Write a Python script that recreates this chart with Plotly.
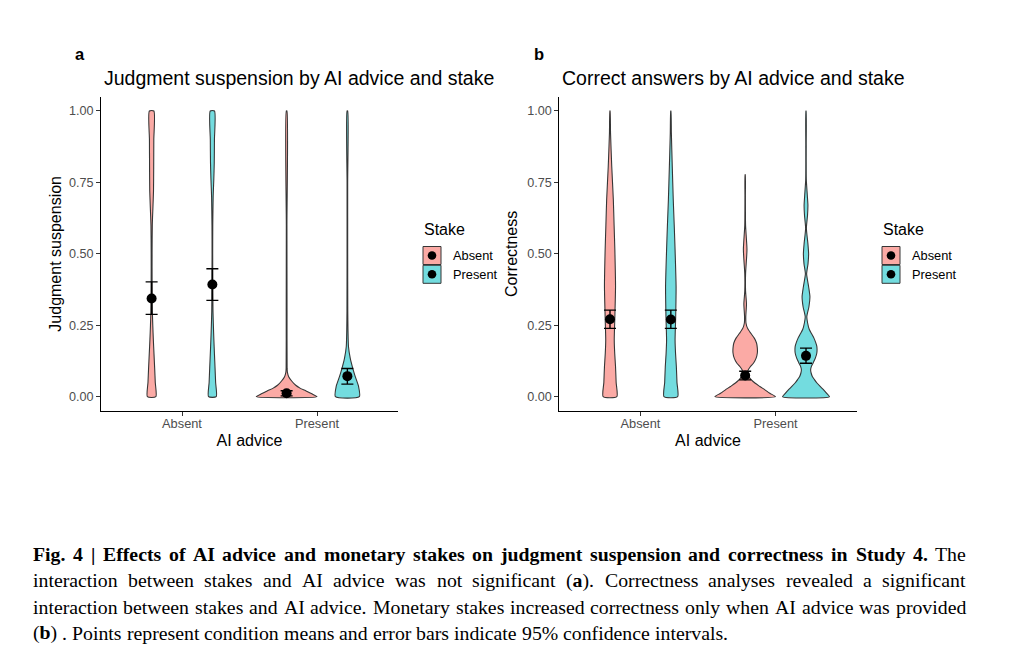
import plotly.graph_objects as go

# page body has an 8px margin, so the figure is laid out in reference pixels minus 8
OFF = 8
W, H = 1004, 654

# ---- data ----
advice = ["Absent", "Present"]          # x categories (AI advice)
stakes = ["Absent", "Present"]          # fill groups (Stake)

# condition means and 95% CI, order: (AI absent, stake absent), (AI absent, stake present),
# (AI present, stake absent), (AI present, stake present)
susp_mean = [0.344, 0.393, 0.012, 0.072]
susp_lo = [0.288, 0.337, 0.003, 0.044]
susp_hi = [0.402, 0.448, 0.021, 0.099]

corr_mean = [0.271, 0.270, 0.074, 0.143]
corr_lo = [0.239, 0.239, 0.059, 0.117]
corr_hi = [0.303, 0.303, 0.089, 0.170]

# violin profiles: y levels and relative density (1 = widest violin)
susp_aa_y = [0, .05, .10, .15, .20, .25, .30, .40, .50, .60, .66, .72, .80, .90, 1.0]
susp_aa_d = [.14, .12, .10, .078, .056, .038, .024, .015, .015, .022, .042, .062, .068, .072, .074]
susp_ap_y = [0, .05, .10, .15, .20, .25, .30, .40, .50, .60, .70, .76, .82, .90, 1.0]
susp_ap_d = [.127, .107, .088, .068, .049, .033, .020, .013, .010, .013, .026, .047, .062, .068, .07]
susp_pa_y = [0, .01, .02, .03, .04, .055, .07, .085, .10, .30, .60, 1.0]
susp_pa_d = [1.0, .83, .64, .44, .30, .166, .068, .026, .016, .013, .010, .010]
susp_pp_y = [0, .036, .071, .10, .135, .176, .235, .30, .50, .75, 1.0]
susp_pp_d = [.394, .368, .257, .176, .094, .036, .020, .013, .010, .010, .010]

corr_aa_y = [0, .05, .105, .15, .198, .28, .385, .513, .60, .689, .805, .922, 1.0]
corr_aa_d = [.225, .202, .182, .156, .140, .160, .182, .160, .135, .110, .058, .018, .003]
corr_ap_y = [0, .05, .105, .15, .198, .28, .385, .513, .60, .689, .805, .922, 1.0]
corr_ap_d = [.225, .202, .182, .156, .140, .160, .173, .140, .112, .080, .048, .018, .003]
corr_pa_y = [0, .012, .024, .036, .048, .065, .08, .092, .105, .118, .135, .153, .17, .188,
             .205, .222, .24, .258, .28, .325, .37, .43, .515, .60, .70, .777]
corr_pa_d = [1.0, .81, .65, .48, .32, .152, .092, .092, .168, .277, .36, .40, .40, .373,
             .30, .185, .076, .026, .020, .043, .013, .013, .059, .013, .007, .003]
corr_pp_y = [0, .012, .024, .036, .048, .06, .071, .083, .094, .106, .118, .135, .153, .176,
             .19, .205, .22, .235, .258, .28, .315, .35, .385, .43, .465, .50, .535, .59,
             .635, .67, .705, .76, .88, 1.0]
corr_pp_d = [.772, .68, .58, .465, .36, .277, .208, .168, .152, .178, .234, .307, .356, .356,
             .317, .261, .185, .109, .053, .026, .096, .129, .086, .020, .066, .086, .063, .013,
             .050, .063, .043, .010, .007, .003]

y_ticks = [0, 0.25, 0.5, 0.75, 1.0]
y_ticktext = ["0.00", "0.25", "0.50", "0.75", "1.00"]

caption = [
    "<b>Fig. 4 | Effects of AI advice and monetary stakes on judgment suspension and "
    "correctness in Study 4.</b> The",
    "interaction between stakes and AI advice was not significant (<b>a</b>). Correctness "
    "analyses revealed a significant",
    "interaction between stakes and AI advice. Monetary stakes increased correctness only "
    "when AI advice was provided",
    "(<b>b</b>) . Points represent condition means and error bars indicate 95% confidence "
    "intervals.",
]

# ---- styling ----
FILL = ["rgba(248,118,109,0.62)", "rgba(0,191,196,0.55)"]
OUTLINE = "#363636"
SANS = "Liberation Sans, Arial, sans-serif"
SERIF = "Liberation Serif, Times New Roman, serif"
DODGE = 0.225
HALF = 0.225
CAP_SIZE = 19.8


def px(x):
    return (x - OFF) / W


def py(y):
    return 1 - (y - OFF) / H


fig = go.Figure()


def add_violin(y, d, center, color, xa, ya):
    hw = [v * HALF for v in d]
    xs = [center - w for w in hw] + [center + w for w in reversed(hw)] + [center - hw[0]]
    ys = list(y) + list(reversed(y)) + [y[0]]
    fig.add_trace(go.Scatter(
        x=xs, y=ys, mode="lines", fill="toself", fillcolor=color,
        line=dict(color=OUTLINE, width=1.1, shape="spline", smoothing=0.6),
        hoverinfo="skip", showlegend=False, xaxis=xa, yaxis=ya))


def add_panel(profiles, mean, lo, hi, xa, ya):
    centers = []
    for i, adv in enumerate(advice):
        for j, st in enumerate(stakes):
            centers.append(i + 1 + (DODGE if j else -DODGE))
    for k, (yy, dd) in enumerate(profiles):
        add_violin(yy, dd, centers[k], FILL[k % 2], xa, ya)
    fig.add_trace(go.Scatter(
        x=centers, y=mean, mode="markers",
        marker=dict(color="black", size=10),
        error_y=dict(type="data", symmetric=False,
                     array=[h - m for h, m in zip(hi, mean)],
                     arrayminus=[m - l for m, l in zip(mean, lo)],
                     color="black", thickness=1.4, width=6),
        hoverinfo="skip", showlegend=False, xaxis=xa, yaxis=ya))


add_panel([(susp_aa_y, susp_aa_d), (susp_ap_y, susp_ap_d),
           (susp_pa_y, susp_pa_d), (susp_pp_y, susp_pp_d)],
          susp_mean, susp_lo, susp_hi, "x", "y")
add_panel([(corr_aa_y, corr_aa_d), (corr_ap_y, corr_ap_d),
           (corr_pa_y, corr_pa_d), (corr_pp_y, corr_pp_d)],
          corr_mean, corr_lo, corr_hi, "x2", "y2")

xaxis_style = dict(range=[0.4, 2.6], tickvals=[1, 2], ticktext=advice,
                   showline=True, linecolor="black", linewidth=1.1, mirror=False,
                   ticks="outside", ticklen=4, tickcolor="#333333", tickwidth=1.1,
                   ticklabelstandoff=-3,
                   showgrid=False, zeroline=False,
                   tickfont=dict(family=SANS, size=12.8, color="#4d4d4d"),
                   title=dict(text="AI advice", standoff=4,
                              font=dict(family=SANS, size=16, color="black")))
yaxis_style = dict(range=[-0.05, 1.05], tickvals=y_ticks, ticktext=y_ticktext,
                   showline=True, linecolor="black", linewidth=1.1,
                   ticks="outside", ticklen=4, tickcolor="#333333", tickwidth=1.1,
                   showgrid=False, zeroline=False,
                   tickfont=dict(family=SANS, size=12.6, color="#4d4d4d"))

fig.update_layout(
    width=W, height=H,
    margin=dict(l=0, r=0, t=0, b=0),
    paper_bgcolor="white", plot_bgcolor="white",
    font=dict(family=SANS),
    xaxis=dict(domain=[px(101), px(398)], anchor="y", **xaxis_style),
    yaxis=dict(domain=[py(411), py(96.7)], anchor="x",
               title=dict(text="Judgment suspension", standoff=3,
                          font=dict(family=SANS, size=16, color="black")),
               **yaxis_style),
    xaxis2=dict(domain=[px(559.3), px(856.7)], anchor="y2", **xaxis_style),
    yaxis2=dict(domain=[py(411), py(96.7)], anchor="x2",
                title=dict(text="Correctness", standoff=5,
                           font=dict(family=SANS, size=16, color="black")),
                **yaxis_style),
)

# panel letters and titles
for letter, lx, title, tx in [("a", 80, "Judgment suspension by AI advice and stake", 102),
                              ("b", 539, "Correct answers by AI advice and stake", 560)]:
    fig.add_annotation(x=px(lx), y=py(54), xref="paper", yref="paper", text=f"<b>{letter}</b>",
                       showarrow=False, xanchor="center", yanchor="middle",
                       font=dict(family=SANS, size=16.5, color="black"))
    fig.add_annotation(x=px(tx), y=py(78), xref="paper", yref="paper", text=title,
                       showarrow=False, xanchor="left", yanchor="middle",
                       font=dict(family=SANS, size=19.5, color="black"))

# legends drawn by hand (ggplot style key: filled box with point)
for lx in [423, 882]:
    fig.add_annotation(x=px(lx - 1), y=py(230), xref="paper", yref="paper", text="Stake",
                       showarrow=False, xanchor="left", yanchor="middle",
                       font=dict(family=SANS, size=16, color="black"))
    for j, st in enumerate(stakes):
        top = 246.5 + j * 18.8
        fig.add_shape(type="rect", xref="paper", yref="paper",
                      x0=px(lx), x1=px(lx + 18), y0=py(top + 18), y1=py(top),
                      fillcolor=FILL[j], line=dict(color=OUTLINE, width=1))
        cx, cy = lx + 9, top + 9
        fig.add_shape(type="circle", xref="paper", yref="paper",
                      x0=px(cx - 4.3), x1=px(cx + 4.3), y0=py(cy + 4.3), y1=py(cy - 4.3),
                      fillcolor="black", line=dict(color="black", width=0))
        fig.add_annotation(x=px(lx + 28), y=py(cy), xref="paper", yref="paper", text=st,
                           showarrow=False, xanchor="left", yanchor="middle",
                           font=dict(family=SANS, size=12.8, color="black"))

# ---- caption, justified like the journal layout ----
# Times (Liberation Serif) advance widths per 1000 em
ROMAN = dict(zip("abcdefghijklmnopqrstuvwxyz",
                 [444, 500, 444, 500, 444, 333, 500, 500, 278, 278, 500, 278, 778,
                  500, 500, 500, 500, 333, 389, 278, 500, 500, 722, 500, 500, 444]))
ROMAN.update(dict(zip("ABCDEFGHIJKLMNOPQRSTUVWXYZ",
                      [722, 667, 667, 722, 611, 556, 722, 722, 333, 389, 722, 611, 889,
                       722, 722, 556, 722, 667, 556, 611, 722, 722, 944, 722, 722, 611])))
ROMAN.update({".": 250, ",": 250, "(": 333, ")": 333, "|": 200, "%": 833, " ": 250})
ROMAN.update({d: 500 for d in "0123456789"})
BOLD = dict(zip("abcdefghijklmnopqrstuvwxyz",
                [500, 556, 444, 556, 444, 333, 500, 556, 278, 333, 556, 278, 833,
                 556, 500, 556, 556, 444, 389, 333, 556, 500, 722, 500, 500, 444]))
BOLD.update(dict(zip("ABCDEFGHIJKLMNOPQRSTUVWXYZ",
                     [722, 667, 722, 722, 667, 611, 778, 778, 389, 500, 778, 667, 944,
                      722, 778, 611, 778, 722, 556, 667, 722, 722, 1000, 722, 722, 667])))
BOLD.update({".": 250, ",": 250, "(": 333, ")": 333, "|": 220, "%": 1000, " ": 250})
BOLD.update({d: 500 for d in "0123456789"})


def word_width(word, bold_start):
    bold = bold_start
    w = 0
    i = 0
    while i < len(word):
        if word.startswith("<b>", i):
            bold = True
            i += 3
            continue
        if word.startswith("</b>", i):
            bold = False
            i += 4
            continue
        w += (BOLD if bold else ROMAN).get(word[i], 500)
        i += 1
    return w * CAP_SIZE / 1000, bold


cap_left, cap_right = 32, 965
for k, line in enumerate(caption):
    ypos = py(554 + k * 26.3)
    words = line.split(" ")
    bold = False
    widths, opens = [], []
    for wd in words:
        opens.append(bold)
        wv, bold = word_width(wd, bold)
        widths.append(wv)
    justify = k < len(caption) - 1
    if justify:
        gap = (cap_right - cap_left - sum(widths)) / (len(words) - 1)
    else:
        gap = ROMAN[" "] * CAP_SIZE / 1000
    x = cap_left
    for wd, wv, was_bold in zip(words, widths, opens):
        txt = wd
        if was_bold and not txt.startswith("<b>"):
            txt = "<b>" + txt
        if txt.count("<b>") > txt.count("</b>"):
            txt = txt + "</b>"
        fig.add_annotation(x=px(x), y=ypos, xref="paper", yref="paper", text=txt,
                           showarrow=False, xanchor="left", yanchor="middle",
                           borderpad=0, font=dict(family=SERIF, size=CAP_SIZE, color="black"))
        x += wv + gap

fig.write_html("out.html")
